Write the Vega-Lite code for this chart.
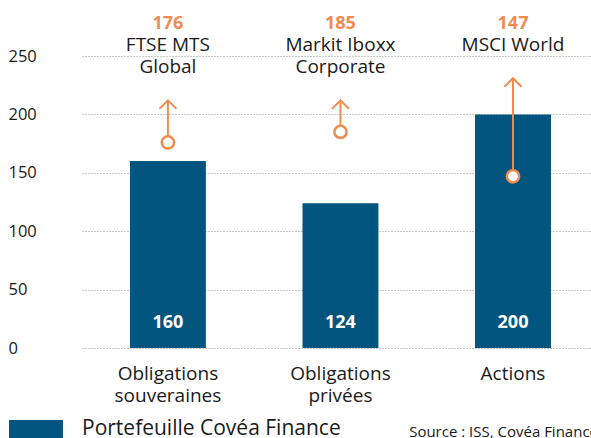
{
  "$schema": "https://vega.github.io/schema/vega-lite/v6.json",
  "width": 509,
  "height": 292,
  "autosize": "none",
  "padding": {"left": 82, "top": 56, "right": 0, "bottom": 90},
  "background": "white",
  "config": {"view": {"stroke": null}, "font": "Open Sans"},
  "title": {"text": "Source : ISS, Covéa Finance", "orient": "bottom", "anchor": "end", "frame": "group", "fontSize": 15, "fontWeight": "normal", "color": "#1a1a1a", "offset": 0, "dx": 7, "dy": -14},
  "data": {"values": [
    {"cat": "Obligations|souveraines", "port": 160, "bench": 176, "arrow": 212, "bench_label": "176", "index": "FTSE MTS\nGlobal", "serie": "Portefeuille Covéa Finance"},
    {"cat": "Obligations|privées", "port": 124, "bench": 185, "arrow": 212, "bench_label": "185", "index": "Markit Iboxx\nCorporate", "serie": "Portefeuille Covéa Finance"},
    {"cat": "Actions", "port": 200, "bench": 147, "arrow": 231, "bench_label": "147", "index": "MSCI World", "serie": "Portefeuille Covéa Finance"}
  ]},
  "encoding": {
    "x": {"field": "cat", "type": "nominal", "sort": null, "title": null,
      "scale": {"paddingInner": 0.56, "paddingOuter": 0.255, "align": 0.545},
      "axis": {"domain": false, "ticks": false, "grid": false, "labelAngle": 0, "labelFontSize": 19, "labelPadding": 16, "labelLineHeight": 22, "labelColor": "#1a1a1a", "labelExpr": "split(datum.label, '|')"}}
  },
  "layer": [
    {"mark": {"type": "bar"},
     "encoding": {
       "y": {"field": "port", "type": "quantitative", "title": null, "scale": {"domain": [0, 250], "nice": false},
         "axis": {"values": [0, 50, 100, 150, 200, 250], "grid": true, "gridDash": [1, 2], "gridColor": "#909090", "domain": false, "ticks": false, "labelAlign": "left", "labelPadding": 74, "labelFontSize": 16.5, "labelColor": "#1a1a1a", "labelBaseline": "middle"}},
       "color": {"field": "serie", "type": "nominal", "scale": {"range": ["#02557f"]},
         "legend": {"orient": "none", "legendX": -73, "legendY": 355, "title": null, "padding": 0, "symbolType": "M-1,-0.5H2V0.5H-1Z", "symbolSize": 1296, "symbolStrokeWidth": 0, "labelFontSize": 21, "labelLimit": 500, "labelOffset": 37, "labelColor": "#1a1a1a"}}
     }},
    {"mark": {"type": "text", "color": "white", "fontWeight": "bold", "fontSize": 18, "dy": -25, "baseline": "middle"},
     "encoding": {"y": {"datum": 0, "type": "quantitative", "title": null, "scale": {"domain": [0, 250], "nice": false}}, "text": {"field": "port"}}},
    {"mark": {"type": "rule", "color": "#f28b4f", "strokeWidth": 2},
     "encoding": {"y": {"field": "bench", "type": "quantitative", "title": null, "scale": {"domain": [0, 250], "nice": false}}, "y2": {"field": "arrow"}}},
    {"mark": {"type": "point", "shape": "M-1,1L0,0L1,1", "size": 289, "filled": false, "color": "#f28b4f", "strokeWidth": 2, "opacity": 1},
     "encoding": {"y": {"field": "arrow", "type": "quantitative", "title": null, "scale": {"domain": [0, 250], "nice": false}}}},
    {"mark": {"type": "point", "shape": "circle", "size": 150, "filled": false, "fill": "white", "fillOpacity": 1, "color": "#f28b4f", "strokeWidth": 2.5, "opacity": 1},
     "encoding": {"y": {"field": "bench", "type": "quantitative", "title": null, "scale": {"domain": [0, 250], "nice": false}}}},
    {"mark": {"type": "text", "color": "#f28b4f", "fontWeight": "bold", "fontSize": 18, "dy": -27, "baseline": "alphabetic"},
     "encoding": {"y": {"datum": 250, "type": "quantitative", "title": null, "scale": {"domain": [0, 250], "nice": false}}, "text": {"field": "bench_label"}}},
    {"mark": {"type": "text", "color": "#1a1a1a", "fontSize": 19, "dy": -5, "baseline": "alphabetic", "lineBreak": "\n", "lineHeight": 22},
     "encoding": {"y": {"datum": 250, "type": "quantitative", "title": null, "scale": {"domain": [0, 250], "nice": false}}, "text": {"field": "index"}}}
  ]
}
